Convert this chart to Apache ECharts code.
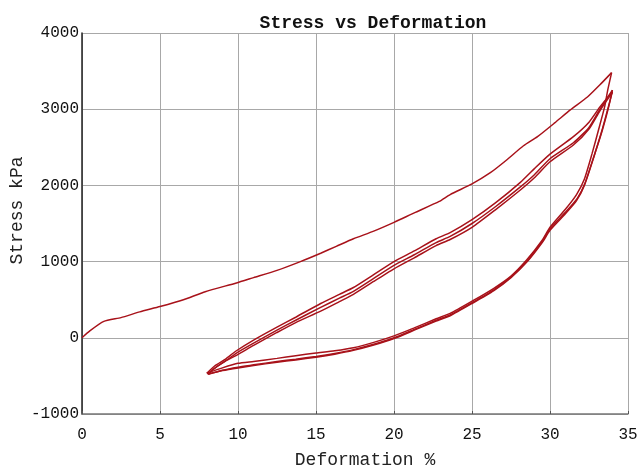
<!DOCTYPE html>
<html>
<head>
<meta charset="utf-8">
<script src="https://cdn.jsdelivr.net/npm/echarts@6/dist/echarts.min.js"></script>
<style>html,body{margin:0;padding:0;background:#fff}#c{width:641px;height:469px}</style>
</head>
<body>
<div id="c"></div>
<script>
const xTicks = [0, 5, 10, 15, 20, 25, 30, 35];
const yTicks = [-1000, 0, 1000, 2000, 3000, 4000];

const loading = [[0,0],[0.5,90],[1.4,215],[2.5,265],[3.7,340],[5,410],[6.5,500],[7.9,605],[9.9,720],[11,790],[12.5,885],[14,1000],[15.3,1110],[16.3,1200],[17.4,1300],[18.7,1400],[20,1515],[21.3,1640],[22.9,1790],[23.6,1880],[25,2020],[26.2,2170],[27.2,2330],[28.3,2520],[29.2,2640],[30.3,2820],[31.3,2990],[32.4,3160],[33.2,3320],[33.95,3480]];

const unload1 = [[33.95,3480],[33.7,3250],[33.5,3030],[33.1,2720],[32.7,2420],[32.2,2080],[31.7,1880],[31,1690],[30,1450],[29.5,1280],[28.5,1020],[27.5,810],[26.4,650],[25,480],[23.6,320],[22.7,250],[21.3,130],[20,25],[18.7,-60],[17.4,-130],[16.2,-170],[15,-200],[13.7,-235],[12.5,-270],[11,-310],[10,-335],[9,-395],[8,-465]];

const reload1 = [[8,-465],[8.5,-370],[9.2,-280],[9.9,-170],[11,-30],[12.5,140],[13.7,270],[15.3,450],[16.5,570],[17.4,660],[18.7,830],[20,1000],[21.3,1140],[22.7,1300],[23.6,1380],[25,1550],[26.5,1770],[28.1,2040],[29,2220],[30,2410],[31.5,2640],[32.5,2830],[33.2,3030],[34,3230]];

const unload2 = [[34,3230],[33.7,3000],[33.3,2700],[32.8,2370],[32.2,2000],[31.7,1800],[31,1630],[30,1410],[29.5,1250],[28.5,990],[27.5,790],[26.4,620],[25,450],[23.6,290],[22.7,220],[21.3,100],[20,-10],[18.7,-95],[17.4,-165],[16.2,-215],[15,-255],[13.7,-290],[12.5,-320],[11,-365],[10,-395],[9,-430],[8.05,-475]];

const reload2 = [[8.05,-475],[8.6,-385],[9.3,-290],[9.9,-200],[11,-70],[12.5,100],[13.7,230],[15.3,400],[16.5,520],[17.4,610],[18.7,780],[20,950],[21.3,1090],[22.7,1250],[23.6,1330],[25,1500],[26.5,1720],[28.1,1980],[29,2140],[30,2350],[31.5,2560],[32.5,2760],[33.2,3000],[34,3250]];

const unload3 = [[34,3250],[33.75,3020],[33.35,2720],[32.85,2400],[32.25,2030],[31.75,1830],[31,1650],[30,1430],[29.5,1265],[28.5,1000],[27.5,800],[26.4,630],[25,460],[23.6,300],[22.7,230],[21.3,110],[20,0],[18.7,-85],[17.4,-155],[16.2,-205],[15,-245],[13.7,-280],[12.5,-310],[11,-355],[10,-385],[9,-425],[8.1,-480]];

const reload3 = [[8.1,-480],[8.5,-400],[9.2,-305],[9.9,-230],[11,-100],[12.5,70],[13.7,200],[15.3,350],[16.5,475],[17.4,570],[18.7,740],[20,905],[21.3,1050],[22.7,1210],[23.6,1290],[25,1450],[26.5,1680],[28.1,1940],[29,2100],[30,2310],[31.5,2530],[32.5,2740],[33.2,2980],[34,3220]];

const curves = [loading, unload1, reload1, unload2, reload2, unload3, reload3];

const mono = '"Liberation Mono", "DejaVu Sans Mono", monospace';
const chart = echarts.init(document.getElementById('c'), null, {renderer: 'canvas'});

const series = curves.map(function (d) {
  return {
    type: 'line',
    data: d,
    showSymbol: false,
    smooth: 0.2,
    lineStyle: {color: '#a8121a', width: 1.5},
    emphasis: {disabled: true},
    silent: true
  };
});

chart.setOption({
  animation: false,
  backgroundColor: '#fff',
  title: {
    text: 'Stress vs Deformation',
    left: 368,
    top: 9,
    textAlign: 'center',
    textStyle: {fontFamily: mono, fontSize: 18, fontWeight: 'bold', color: '#111'}
  },
  grid: {left: 82, right: 13, top: 33, bottom: 55, containLabel: false, outerBoundsMode: 'none'},
  xAxis: {
    type: 'value',
    min: xTicks[0],
    max: xTicks[xTicks.length - 1],
    interval: 5,
    name: 'Deformation %',
    nameLocation: 'middle',
    nameGap: 37,
    nameMoveOverlap: false,
    nameTextStyle: {fontFamily: mono, fontSize: 18, color: '#222', padding: [0, 0, 0, 20]},
    axisLine: {show: true, onZero: false, lineStyle: {color: '#777', width: 1.5}},
    axisTick: {show: true, inside: true, length: 3, lineStyle: {color: '#555'}},
    axisLabel: {fontFamily: mono, fontSize: 16, color: '#111', margin: 13, formatter: function (v) { return String(v); }},
    splitLine: {show: true, lineStyle: {color: '#a8a8a8', width: 1}}
  },
  yAxis: {
    type: 'value',
    min: yTicks[0],
    max: yTicks[yTicks.length - 1],
    interval: 1000,
    name: 'Stress kPa',
    nameLocation: 'middle',
    nameGap: 56,
    nameMoveOverlap: false,
    nameTextStyle: {fontFamily: mono, fontSize: 18, color: '#222', padding: [0, 0, 0, 26]},
    axisLine: {show: true, onZero: false, lineStyle: {color: '#222', width: 1.5}},
    axisTick: {show: false},
    axisLabel: {fontFamily: mono, fontSize: 16, color: '#111', margin: 3, formatter: function (v) { return String(v); }},
    splitLine: {show: true, lineStyle: {color: '#a8a8a8', width: 1}}
  },
  series: series
});
</script>
</body>
</html>
